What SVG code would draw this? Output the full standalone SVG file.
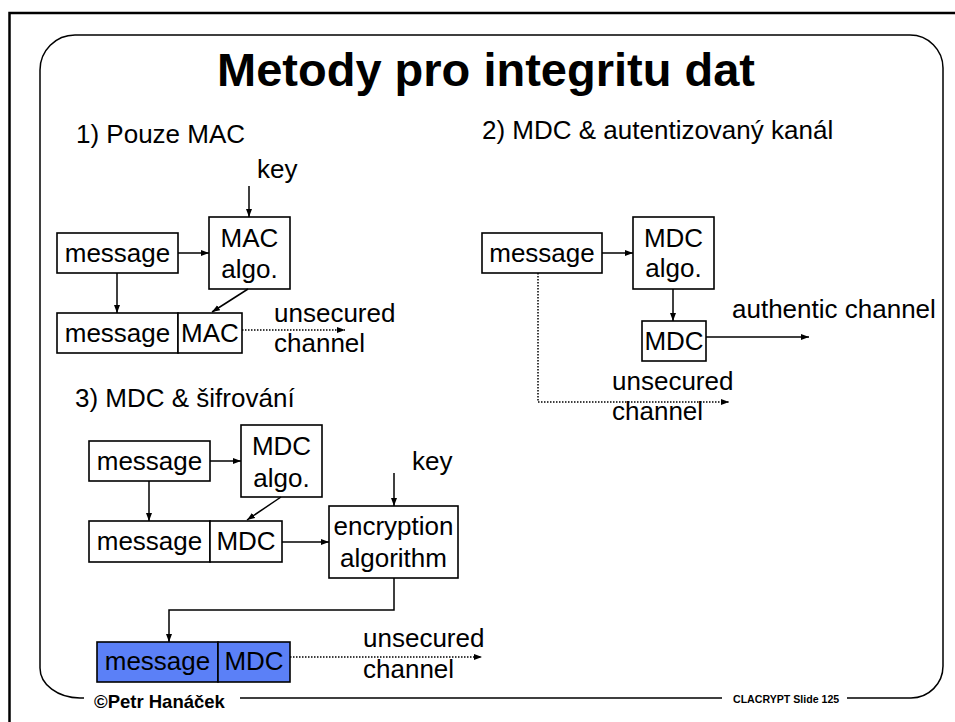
<svg xmlns="http://www.w3.org/2000/svg" width="955" height="722" viewBox="0 0 955 722">
  <defs>
    <marker id="arrow" markerUnits="userSpaceOnUse" markerWidth="9" markerHeight="7" refX="8" refY="3" orient="auto">
      <path d="M0,0 L8,3 L0,6 z" fill="#000"/>
    </marker>
    <style>
      .box { fill: #fff; stroke: #000; stroke-width: 1.6; }
      .blue { fill: #5B80F7; stroke: #000; stroke-width: 1.6; }
      .t { font-family: "Liberation Sans", Arial, sans-serif; font-size: 26px; fill: #000; }
      .c { text-anchor: middle; }
      .line { fill: none; stroke: #000; stroke-width: 1.5; marker-end: url(#arrow); }
      .dot { fill: none; stroke: #000; stroke-width: 1.5; stroke-dasharray: 1.5 1.5; marker-end: url(#arrow); }
    </style>
  </defs>

  <rect width="955" height="722" fill="#fff"/>

  <!-- page border -->
  <path d="M9.5,722 V13 H955" fill="none" stroke="#000" stroke-width="2.5"/>

  <!-- rounded slide frame with gaps for the footer texts -->
  <path d="M240,698 H722 M847,698 H911 A32,32 0 0 0 943,666 V68 A33,33 0 0 0 910,35 H75 A35,35 0 0 0 40,70 V668 A40,30 0 0 0 80,698 H84" fill="none" stroke="#000" stroke-width="1.5"/>

  <!-- title -->
  <text x="486" y="86" font-family="Liberation Sans, Arial, sans-serif" font-size="47" font-weight="bold" text-anchor="middle">Metody pro integritu dat</text>

  <!-- section headings -->
  <text class="t" x="76" y="143">1) Pouze MAC</text>
  <text class="t" x="482" y="139">2) MDC &amp; autentizovaný kanál</text>
  <text class="t" x="75" y="407">3) MDC &amp; šifrování</text>

  <!-- section 1: MAC only -->
  <g id="s1-key"><text class="t" x="257" y="178">key</text></g>
  <g id="s1-message">
    <rect class="box" x="57" y="233" width="121" height="40"/>
    <text class="t c" x="117.5" y="262">message</text>
  </g>
  <g id="s1-mac-algo">
    <rect class="box" x="209" y="217" width="81" height="72"/>
    <text class="t c" x="249.5" y="247">MAC</text>
    <text class="t c" x="249.5" y="278">algo.</text>
  </g>
  <g id="s1-message-mac">
    <rect class="box" x="57" y="313" width="121" height="40"/>
    <rect class="box" x="178" y="313" width="64" height="40"/>
    <text class="t c" x="117.5" y="342">message</text>
    <text class="t c" x="210" y="342">MAC</text>
  </g>
  <g id="s1-channel">
    <text class="t" x="274" y="322">unsecured</text>
    <text class="t" x="274" y="352">channel</text>
  </g>

  <!-- section 2: MDC and authentic channel -->
  <g id="s2-message">
    <rect class="box" x="482" y="233" width="120" height="40"/>
    <text class="t c" x="542" y="262">message</text>
  </g>
  <g id="s2-mdc-algo">
    <rect class="box" x="633" y="217" width="81" height="72"/>
    <text class="t c" x="673.5" y="247">MDC</text>
    <text class="t c" x="673.5" y="277">algo.</text>
  </g>
  <g id="s2-mdc">
    <rect class="box" x="642" y="321" width="64" height="40"/>
    <text class="t c" x="674" y="350">MDC</text>
  </g>
  <g id="s2-authentic"><text class="t" x="732" y="318">authentic channel</text></g>
  <g id="s2-unsecured">
    <text class="t" x="612" y="390">unsecured</text>
    <text class="t" x="612" y="420">channel</text>
  </g>

  <!-- section 3: MDC and encryption -->
  <g id="s3-message">
    <rect class="box" x="89" y="441" width="121" height="40"/>
    <text class="t c" x="149.5" y="470">message</text>
  </g>
  <g id="s3-mdc-algo">
    <rect class="box" x="241" y="425" width="81" height="72"/>
    <text class="t c" x="281.5" y="455">MDC</text>
    <text class="t c" x="281.5" y="487">algo.</text>
  </g>
  <g id="s3-message-mdc">
    <rect class="box" x="89" y="521" width="121" height="41"/>
    <rect class="box" x="210" y="521" width="72" height="41"/>
    <text class="t c" x="149.5" y="550">message</text>
    <text class="t c" x="246" y="550">MDC</text>
  </g>
  <g id="s3-key"><text class="t" x="412" y="470">key</text></g>
  <g id="s3-encryption">
    <rect class="box" x="329" y="506" width="129" height="72"/>
    <text class="t c" x="393.5" y="535">encryption</text>
    <text class="t c" x="393.5" y="567">algorithm</text>
  </g>
  <g id="s3-encrypted">
    <rect class="blue" x="97" y="642" width="121" height="40"/>
    <rect class="blue" x="218" y="642" width="72" height="40"/>
    <text class="t c" x="157.5" y="670">message</text>
    <text class="t c" x="254" y="670">MDC</text>
  </g>
  <g id="s3-unsecured">
    <text class="t" x="363" y="647">unsecured</text>
    <text class="t" x="363" y="678">channel</text>
  </g>

  <!-- connectors -->
  <g id="connectors">
    <path class="line" d="M249,186 V217"/>
    <path class="line" d="M178,253 H209"/>
    <path class="line" d="M117,273 V313"/>
    <path class="line" d="M248,289 L212,312"/>
    <path class="dot" d="M242,330 H345"/>

    <path class="line" d="M602,253 H633"/>
    <path class="line" d="M673,289 V321"/>
    <path class="line" d="M706,337 H809"/>
    <path class="dot" d="M538,273 V402 H729"/>

    <path class="line" d="M210,461 H241"/>
    <path class="line" d="M149,481 V521"/>
    <path class="line" d="M281,497 L247,520"/>
    <path class="line" d="M282,542 H329"/>
    <path class="line" d="M394,473 V506"/>
    <path class="line" d="M394,578 V610 H169 V642" stroke-width="2"/>
    <path class="dot" d="M290,657 H482"/>
  </g>

  <!-- footer -->
  <text x="94" y="708" font-family="Liberation Sans, Arial, sans-serif" font-size="18.5" font-weight="bold">©Petr Hanáček</text>
  <text x="733" y="703" font-family="Liberation Sans, Arial, sans-serif" font-size="10.6" font-weight="bold">CLACRYPT Slide 125</text>
</svg>
